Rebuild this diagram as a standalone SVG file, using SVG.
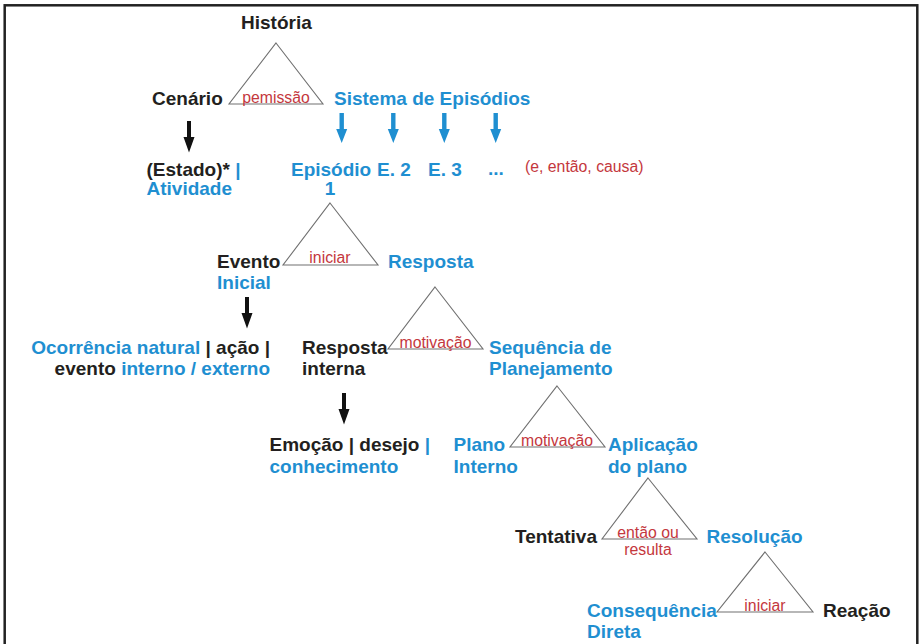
<svg xmlns="http://www.w3.org/2000/svg" width="920" height="644" viewBox="0 0 920 644">
  <style>
    .t { font-family: "Liberation Sans", Arial, sans-serif; font-weight: bold; font-size: 19px; fill: #231f20; }
    .b { fill: #1f8fd1; }
    .k { fill: #231f20; }
    .rel { font-family: "Liberation Sans", Arial, sans-serif; font-size: 15.8px; fill: #c4373d; text-anchor: middle; }
    .tri { fill: none; stroke: #707070; stroke-width: 1.1; }
    .arr-k { fill: #111111; }
    .arr-b { fill: #1f8fd1; }
  </style>
  <defs>
    <!-- down arrow, origin at the top of the shaft -->
    <path id="down-k" d="M-2,0 H2 V16 H5.5 L0,31.5 L-5.5,16 H-2 Z"/>
    <path id="down-b" d="M-2.2,0 H2.2 V16 H5.5 L0,30 L-5.5,16 H-2.2 Z"/>
  </defs>

  <rect width="920" height="644" fill="#ffffff"/>
  <!-- outer frame (open at the bottom edge) -->
  <rect x="4.7" y="5.3" width="912.6" height="660" fill="none" stroke="#222222" stroke-width="2.5"/>

  <!-- connectors: relation triangles with their labels, and arrows -->
  <g id="connectors">
    <g id="rel-permissao">
      <polygon class="tri" points="276,43 323,104 229,104"/>
      <text class="rel" x="276" y="103">pemissão</text>
    </g>
    <g id="rel-iniciar-1">
      <polygon class="tri" points="330,203 378,265 283,265"/>
      <text class="rel" x="330" y="263">iniciar</text>
    </g>
    <g id="rel-motivacao-1">
      <polygon class="tri" points="435,287 483,349 388,349"/>
      <text class="rel" x="435.5" y="348">motivação</text>
    </g>
    <g id="rel-motivacao-2">
      <polygon class="tri" points="557,386 605,447 510,447"/>
      <text class="rel" x="557" y="446">motivação</text>
    </g>
    <g id="rel-entao">
      <polygon class="tri" points="648,478 697,539 602,539"/>
      <text class="rel" x="648" y="537.5">então ou</text>
      <text class="rel" x="648" y="554.5">resulta</text>
    </g>
    <g id="rel-iniciar-2">
      <polygon class="tri" points="765,552 813,612 717,612"/>
      <text class="rel" x="765" y="611">iniciar</text>
    </g>

    <use href="#down-k" class="arr-k" x="189" y="121"/>
    <use href="#down-k" class="arr-k" x="247" y="297"/>
    <use href="#down-k" class="arr-k" x="344" y="393"/>

    <use href="#down-b" class="arr-b" x="341.7" y="113"/>
    <use href="#down-b" class="arr-b" x="393.3" y="113"/>
    <use href="#down-b" class="arr-b" x="444.3" y="113"/>
    <use href="#down-b" class="arr-b" x="495.7" y="113"/>

    <text class="rel" x="525" y="172" style="text-anchor:start">(e, então, causa)</text>
  </g>

  <g id="historia"><text class="t" x="241" y="29">História</text></g>
  <g id="cenario"><text class="t" x="152" y="105">Cenário</text></g>
  <g id="sistema-episodios"><text class="t b" x="334" y="105">Sistema de Episódios</text></g>

  <g id="estado-atividade">
    <text class="t" x="146.5" y="176">(Estado)* <tspan class="b">|</tspan></text>
    <text class="t b" x="146.5" y="195">Atividade</text>
  </g>
  <g id="episodio-1">
    <text class="t b" x="291" y="176">Episódio</text>
    <text class="t b" x="330" y="195" text-anchor="middle">1</text>
  </g>
  <g id="episodio-2"><text class="t b" x="377" y="176">E. 2</text></g>
  <g id="episodio-3"><text class="t b" x="428" y="176">E. 3</text></g>
  <g id="episodio-n"><text class="t b" x="488" y="175">...</text></g>

  <g id="evento-inicial">
    <text class="t" x="217" y="268">Evento</text>
    <text class="t b" x="217" y="289">Inicial</text>
  </g>
  <g id="resposta"><text class="t b" x="388" y="268">Resposta</text></g>

  <g id="ocorrencia">
    <text class="t" x="270" y="354" text-anchor="end"><tspan class="b">Ocorrência natural</tspan> | ação |</text>
    <text class="t" x="270" y="375" text-anchor="end">evento <tspan class="b">interno / externo</tspan></text>
  </g>

  <g id="resposta-interna">
    <text class="t" x="302" y="354">Resposta</text>
    <text class="t" x="302" y="375">interna</text>
  </g>
  <g id="sequencia-planejamento">
    <text class="t b" x="489" y="354">Sequência de</text>
    <text class="t b" x="489" y="375">Planejamento</text>
  </g>

  <g id="emocao-desejo">
    <text class="t" x="269.5" y="451">Emoção | desejo <tspan class="b">|</tspan></text>
    <text class="t b" x="269.5" y="473">conhecimento</text>
  </g>
  <g id="plano-interno">
    <text class="t b" x="453.5" y="451">Plano</text>
    <text class="t b" x="453.5" y="473">Interno</text>
  </g>
  <g id="aplicacao-plano">
    <text class="t b" x="608" y="451">Aplicação</text>
    <text class="t b" x="608" y="473">do plano</text>
  </g>

  <g id="tentativa"><text class="t" x="515" y="542.5">Tentativa</text></g>
  <g id="resolucao"><text class="t b" x="706.5" y="542.5">Resolução</text></g>

  <g id="consequencia-direta">
    <text class="t b" x="587" y="617">Consequência</text>
    <text class="t b" x="587" y="638">Direta</text>
  </g>
  <g id="reacao"><text class="t" x="823" y="617">Reação</text></g>
</svg>
